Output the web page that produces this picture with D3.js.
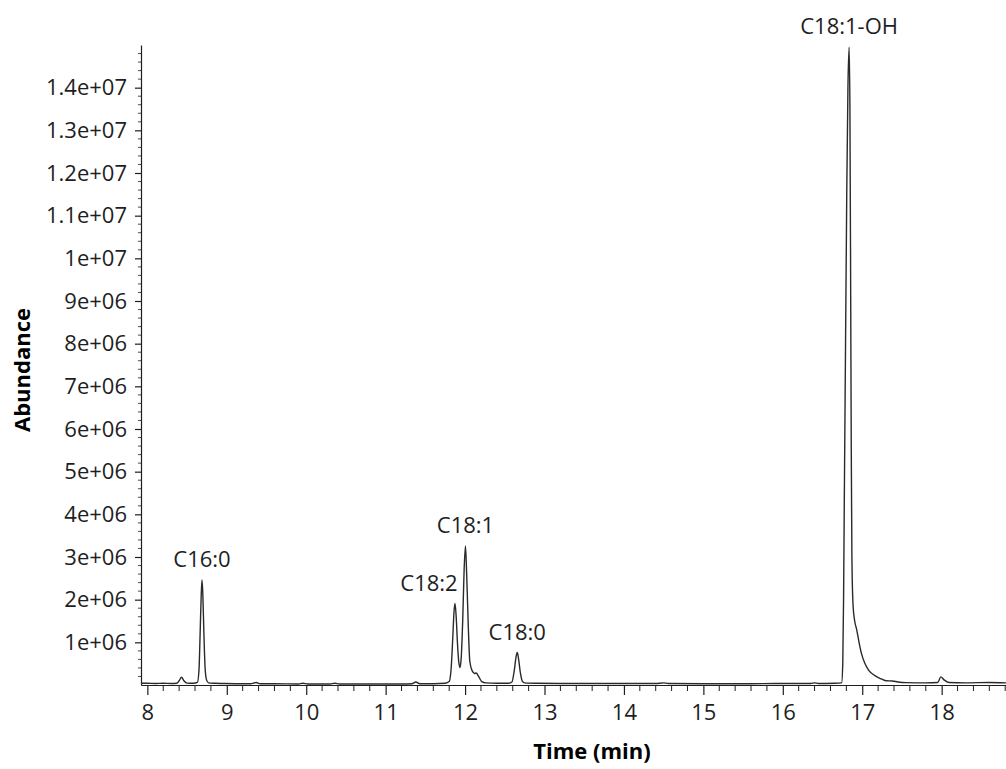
<!DOCTYPE html>
<html>
<head>
<meta charset="utf-8">
<script src="https://cdn.jsdelivr.net/npm/d3@7"></script>
<style>
  html, body { margin: 0; padding: 0; background: #fff; }
  svg { display: block; font-family: "Segoe UI", "Open Sans", sans-serif; }
</style>
</head>
<body>
<svg id="chart"></svg>
<script>
// GC chromatogram: abundance vs retention time, labelled fatty-acid peaks

// retention time (min) of each trace point
const times = [
  7.92, 8.00, 8.10, 8.20, 8.30, 8.37, 8.40, 8.43, 8.46, 8.50, 8.58,
  8.63, 8.65, 8.665, 8.678, 8.688, 8.698, 8.712, 8.727, 8.745, 8.77, 8.85, 8.95,
  9.10, 9.30, 9.37, 9.42, 9.60, 9.90, 9.96, 10.02, 10.30, 10.36, 10.42, 10.80,
  11.20, 11.33, 11.38, 11.43, 11.60, 11.75, 11.80, 11.825, 11.845, 11.86, 11.873,
  11.888, 11.905, 11.92, 11.935, 11.95, 11.97, 11.988, 12.005, 12.02, 12.04, 12.06,
  12.09, 12.12, 12.14, 12.17, 12.21, 12.26, 12.40, 12.55, 12.59, 12.62, 12.642,
  12.657, 12.672, 12.695, 12.72, 12.75, 12.90, 13.20, 13.60, 14.00, 14.40, 14.50,
  14.56, 15.00, 15.50, 16.00, 16.35, 16.40, 16.45, 16.65, 16.74, 16.755, 16.765,
  16.775, 16.79, 16.805, 16.82, 16.835, 16.845, 16.855, 16.862, 16.87, 16.885, 16.905,
  16.93, 16.96, 16.99, 17.03, 17.08, 17.15, 17.23, 17.30, 17.38, 17.45, 17.56,
  17.80, 17.95, 17.99, 18.03, 18.09, 18.30, 18.60, 18.81
];

// abundance (counts) at each time above
const abundance = [
  4.0e4, 4.0e4, 3.5e4, 4.0e4, 3.5e4, 4.0e4, 1.0e5, 1.8e5, 1.0e5, 4.5e4, 4.0e4,
  6.0e4, 3.5e5, 1.25e6, 2.1e6, 2.46e6, 2.15e6, 1.2e6, 4.0e5, 1.2e5, 5.0e4, 4.0e4, 3.5e4,
  3.0e4, 3.0e4, 6.0e4, 3.0e4, 3.0e4, 2.5e4, 4.0e4, 2.5e4, 2.5e4, 4.0e4, 2.5e4, 2.5e4,
  2.5e4, 3.0e4, 7.0e4, 3.0e4, 3.0e4, 4.0e4, 8.0e4, 4.0e5, 1.1e6, 1.7e6, 1.91e6,
  1.6e6, 9.5e5, 5.5e5, 4.1e5, 6.0e5, 1.5e6, 2.7e6, 3.26e6, 2.6e6, 1.4e6, 5.5e5,
  3.3e5, 2.7e5, 2.8e5, 2.0e5, 8.0e4, 5.0e4, 4.0e4, 4.0e4, 7.0e4, 3.5e5, 6.6e5,
  7.6e5, 6.3e5, 3.0e5, 9.0e4, 5.0e4, 4.0e4, 3.5e4, 3.5e4, 3.5e4, 3.5e4, 5.0e4,
  3.5e4, 3.0e4, 3.0e4, 3.5e4, 3.5e4, 5.0e4, 3.5e4, 4.0e4, 5.0e4, 5.0e5, 2.0e6,
  4.5e6, 8.0e6, 1.15e7, 1.4e7, 1.495e7, 1.35e7, 9.0e6, 5.5e6, 3.0e6, 1.85e6, 1.5e6,
  1.3e6, 1.0e6, 7.4e5, 5.2e5, 3.5e5, 2.3e5, 1.5e5, 1.0e5, 9.5e4, 7.0e4, 5.5e4,
  5.0e4, 6.0e4, 1.9e5, 1.2e5, 6.0e4, 5.0e4, 6.0e4, 5.0e4
];

// peak labels: name, apex time, apex abundance
const peakNames = ["C16:0", "C18:2", "C18:1", "C18:0", "C18:1-OH"];
const peakTimes = [8.688, 11.873, 12.005, 12.657, 16.835];
const peakHeights = [2.46e6, 1.91e6, 3.26e6, 7.6e5, 1.495e7];

const xTicks = [8, 9, 10, 11, 12, 13, 14, 15, 16, 17, 18];
const yTicks = [1e6, 2e6, 3e6, 4e6, 5e6, 6e6, 7e6, 8e6, 9e6, 1e7, 1.1e7, 1.2e7, 1.3e7, 1.4e7];

const W = 1006, H = 769;
const M = { left: 141, right: 1006, top: 45, bottom: 685 };
const INK = "#1e1e1e";

const svg = d3.select("#chart").attr("width", W).attr("height", H);

const x = d3.scaleLinear().domain([7.92, 18.81]).range([M.left, M.right]);
const y = d3.scaleLinear().domain([0, 1.5e7]).range([M.bottom, M.top]);

// "1.4e+07" style labels
function sci(v) {
  return v.toExponential().replace(/e([+-])(\d)$/, "e$10$2");
}

// minor ticks
const xMinor = d3.range(8, 18.81, 0.2).filter(t => Math.abs(t - Math.round(t)) > 1e-6);
svg.append("g").selectAll("line").data(xMinor).join("line")
  .attr("x1", d => x(d)).attr("x2", d => x(d))
  .attr("y1", M.bottom).attr("y2", M.bottom + 6)
  .attr("stroke", INK).attr("stroke-width", 1);

const yMinor = d3.range(2e5, 1.5e7, 2e5).filter(v => Math.abs(v / 1e6 - Math.round(v / 1e6)) > 1e-6);
svg.append("g").selectAll("line").data(yMinor).join("line")
  .attr("x1", M.left - 3).attr("x2", M.left)
  .attr("y1", d => y(d)).attr("y2", d => y(d))
  .attr("stroke", INK).attr("stroke-width", 0.8);

// x axis
const xAxis = svg.append("g")
  .attr("transform", `translate(0,${M.bottom})`)
  .call(d3.axisBottom(x).tickValues(xTicks).tickSize(10).tickSizeOuter(0).tickPadding(9).tickFormat(d3.format("d")));
xAxis.select(".domain").attr("stroke", INK).attr("stroke-width", 1.2);
xAxis.selectAll(".tick line").attr("stroke", INK).attr("stroke-width", 1.2);
xAxis.selectAll(".tick text").attr("font-size", 22).attr("fill", INK)
  .attr("font-family", "'Segoe UI', 'Open Sans', sans-serif");

// y axis
const yAxis = svg.append("g")
  .attr("transform", `translate(${M.left},0)`)
  .call(d3.axisLeft(y).tickValues(yTicks).tickSize(6).tickSizeOuter(0).tickPadding(8).tickFormat(sci));
yAxis.select(".domain").attr("stroke", INK).attr("stroke-width", 1.2);
yAxis.selectAll(".tick line").attr("stroke", INK).attr("stroke-width", 1.2);
yAxis.selectAll(".tick text").attr("font-size", 22).attr("fill", INK)
  .attr("font-family", "'Segoe UI', 'Open Sans', sans-serif");

// trace
const pts = times.map((t, i) => [t, abundance[i]]);
svg.append("path")
  .datum(pts)
  .attr("fill", "none")
  .attr("stroke", "#2a2a2a")
  .attr("stroke-width", 1.4)
  .attr("stroke-linejoin", "round")
  .attr("d", d3.line().x(d => x(d[0])).y(d => y(d[1])).curve(d3.curveMonotoneX));

// peak labels
const labelShift = { "C18:2": -26 };
svg.append("g").selectAll("text").data(peakNames).join("text")
  .attr("x", (d, i) => x(peakTimes[i]) + (labelShift[d] || 0))
  .attr("y", (d, i) => y(peakHeights[i]) - 13)
  .attr("text-anchor", "middle")
  .attr("font-size", 22)
  .attr("fill", INK)
  .text(d => d);

// axis titles
svg.append("text")
  .attr("x", 592).attr("y", 759)
  .attr("text-anchor", "middle")
  .attr("font-size", 22).attr("font-weight", 700).attr("fill", "#000")
  .text("Time (min)");

svg.append("text")
  .attr("transform", `translate(30,370) rotate(-90)`)
  .attr("text-anchor", "middle")
  .attr("font-size", 22).attr("font-weight", 700).attr("fill", "#000")
  .text("Abundance");
</script>
</body>
</html>
